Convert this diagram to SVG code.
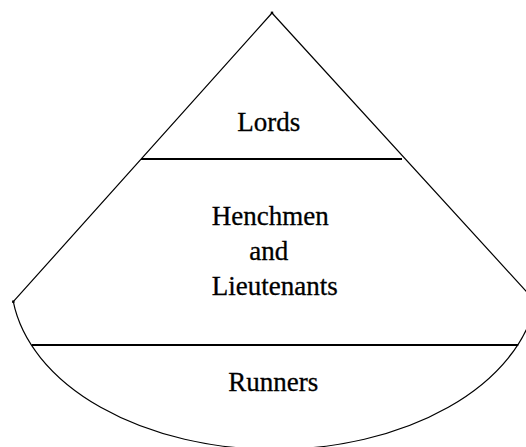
<svg xmlns="http://www.w3.org/2000/svg" width="526" height="447" viewBox="0 0 526 447">
  <style>
    .outline { fill: none; stroke: #000; stroke-width: 1.2; stroke-linejoin: miter; }
    .divider { stroke: #000; stroke-width: 1.8; }
    .label { font-family: "Liberation Serif", "Times New Roman", serif; font-size: 27px; fill: #000; stroke: #000; stroke-width: 0.3; }
    .dot { fill: #000; }
  </style>
  <rect width="526" height="447" fill="#fff"/>
  <g id="pyramid">
    <path class="outline" d="M 13.3 301.7 L 272 13 L 535.7 301.7 A 263.4 169.6 0 0 1 13.3 301.7 Z"/>
    <rect class="dot" x="270.8" y="11.6" width="2.4" height="2.4"/>
    <rect class="dot" x="12.1" y="300.5" width="2.4" height="2.4"/>
  </g>
  <g id="connectors">
    <line class="divider" x1="141" y1="159" x2="402" y2="159"/>
    <line class="divider" x1="31.7" y1="345" x2="518.3" y2="345"/>
  </g>
  <g id="lords">
    <text class="label" x="237.3" y="130.5">Lords</text>
  </g>
  <g id="henchmen">
    <text class="label" x="211.7" y="225">Henchmen</text>
    <text class="label" x="249.3" y="259.5">and</text>
    <text class="label" x="211.7" y="295">Lieutenants</text>
  </g>
  <g id="runners">
    <text class="label" x="228.3" y="390.5">Runners</text>
  </g>
</svg>
